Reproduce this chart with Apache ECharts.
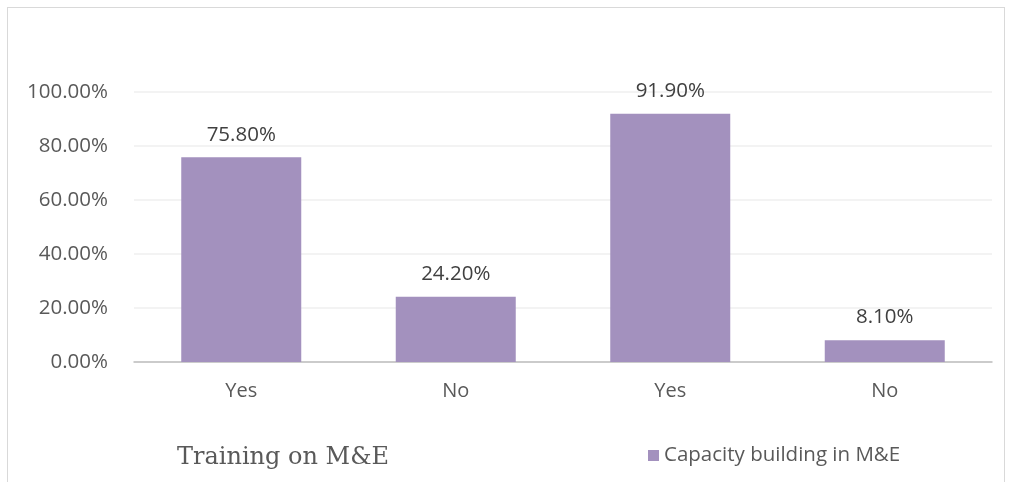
<!DOCTYPE html>
<html>
<head>
<meta charset="utf-8">
<style>
html,body{margin:0;padding:0;background:#fff;}
#frame{position:absolute;left:7px;top:7px;width:998px;height:480px;border:1px solid #d9d9d9;box-sizing:border-box;}
#chart{position:absolute;left:0;top:0;width:1009px;height:482px;}
</style>
<script src="https://cdn.jsdelivr.net/npm/echarts@6/dist/echarts.min.js"></script>
</head>
<body>
<div id="frame"></div>
<div id="chart"></div>
<script>
const categories = ['Yes', 'No', 'Yes', 'No'];
const values = [75.8, 24.2, 91.9, 8.1];
const yTicks = [0, 20, 40, 60, 80, 100];
const seriesName = 'Capacity building in M&E';
const axisTitle = 'Training on M&E';

const sans = '"Open Sans", Lato, sans-serif';
const chart = echarts.init(document.getElementById('chart'), null, {renderer: 'canvas'});
chart.setOption({
  backgroundColor: 'transparent',
  animation: false,
  grid: {left: 134, right: 17, top: 92, bottom: 120, containLabel: false},
  xAxis: {
    type: 'category',
    data: categories,
    axisLine: {lineStyle: {color: '#bfbfbf', width: 1.5}},
    axisTick: {show: false},
    axisLabel: {color: '#595959', fontSize: 20, fontFamily: sans, margin: 19}
  },
  yAxis: {
    type: 'value',
    min: yTicks[0],
    max: yTicks[yTicks.length - 1],
    interval: 20,
    axisLine: {show: false},
    axisTick: {show: false},
    splitLine: {lineStyle: {color: '#efefef', width: 1.5}},
    axisLabel: {color: '#595959', fontSize: 20.5, fontFamily: sans, margin: 26,
      formatter: v => v.toFixed(2) + '%'}
  },
  legend: {
    left: 643, top: 440,
    itemWidth: 11, itemHeight: 11, icon: 'rect', itemGap: 9,
    textStyle: {color: '#595959', fontSize: 20.5, fontFamily: sans},
    data: [seriesName]
  },
  graphic: [{
    type: 'text', left: 177, top: 446,
    style: {text: axisTitle, fill: '#595959', fontSize: 24, fontFamily: '"DejaVu Serif", "Liberation Serif", serif'}
  }],
  series: [{
    name: seriesName,
    type: 'bar',
    data: values,
    barWidth: 120,
    itemStyle: {color: '#a391be'},
    label: {show: true, position: 'top', distance: 12, color: '#404040', fontSize: 20.5,
      fontFamily: sans, formatter: p => p.value.toFixed(2) + '%'}
  }]
});
</script>
</body>
</html>
